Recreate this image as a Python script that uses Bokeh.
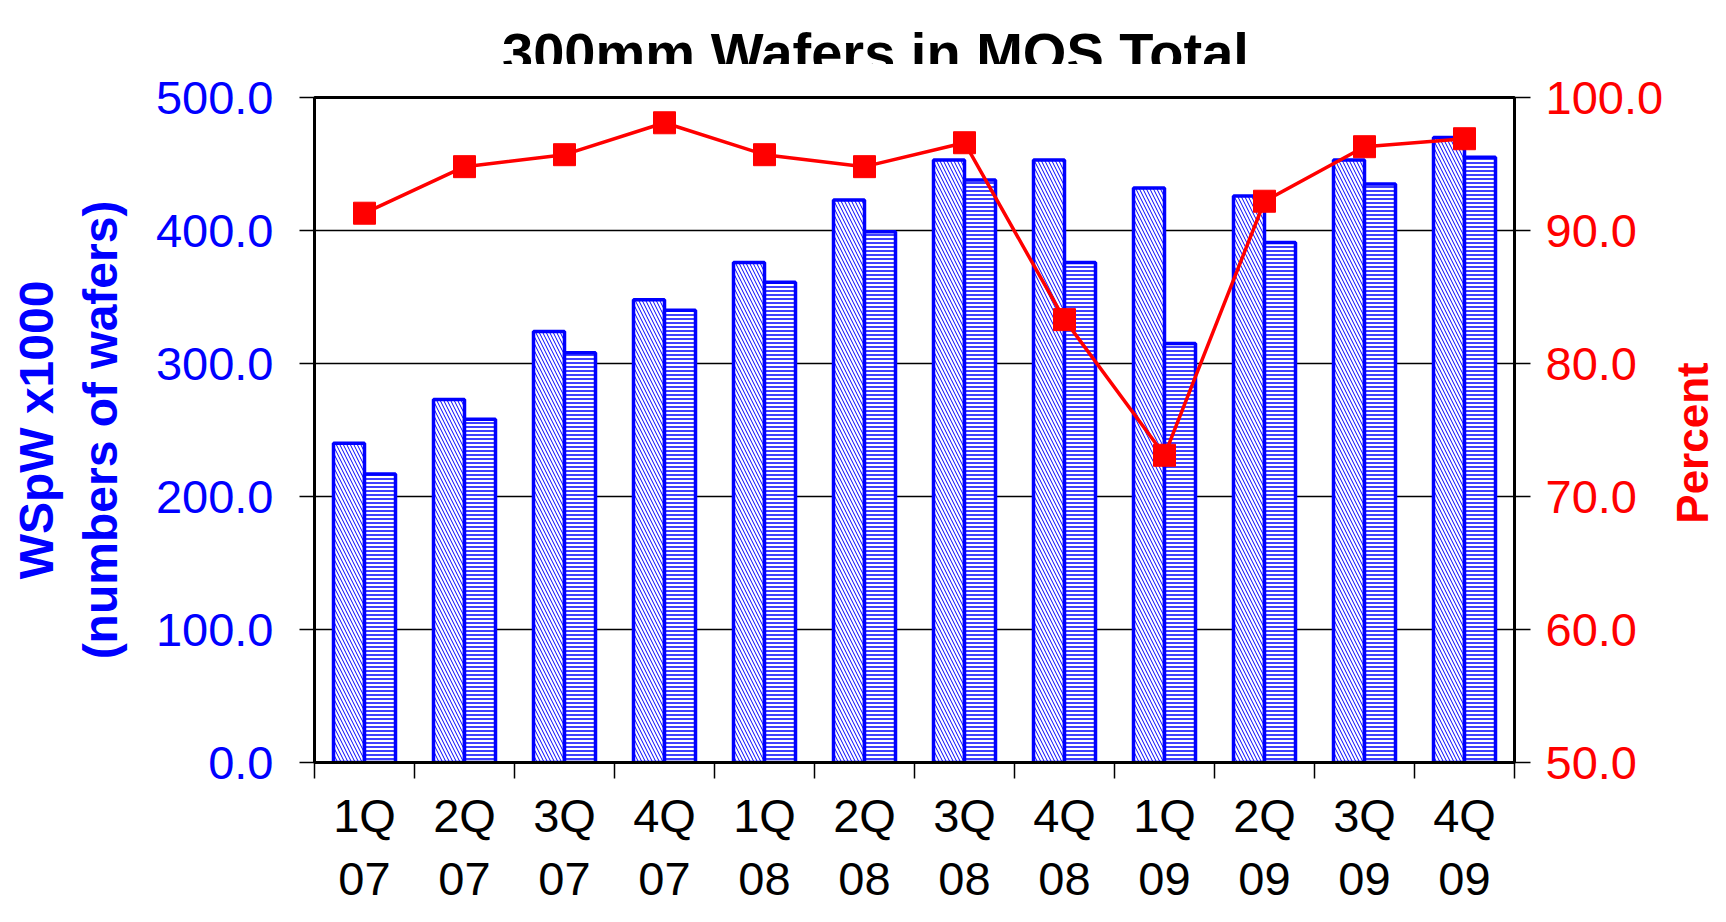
import math
from bokeh.plotting import figure
from bokeh.layouts import row, column
from bokeh.models import (Range1d, LinearAxis, FixedTicker, PrintfTickFormatter,
                          ColumnDataSource)
from bokeh.transform import dodge
from bokeh.core.properties import value
from bokeh.embed import file_html
from bokeh.resources import INLINE

# ---- data ----
title_text = "300mm Wafers in MOS Total"
quarters = ["1Q", "2Q", "3Q", "4Q", "1Q", "2Q", "3Q", "4Q", "1Q", "2Q", "3Q", "4Q"]
years = ["07", "07", "07", "07", "08", "08", "08", "08", "09", "09", "09", "09"]
capacity = [240, 273, 324, 348, 376, 423, 453, 453, 432, 426, 453, 470]
actual = [217, 258, 308, 340, 361, 399, 438, 376, 315, 391, 435, 455]
percent = [91.3, 94.8, 95.7, 98.1, 95.7, 94.8, 96.6, 83.3, 73.1, 92.2, 96.3, 96.9]
left_ticks = [0, 100, 200, 300, 400, 500]
right_ticks = [50, 60, 70, 80, 90, 100]
right_title = "Percent"

n = len(quarters)
labels = [f"{q}\n{y}" for q, y in zip(quarters, years)]
centres = [i + 0.5 for i in range(n)]          # category slot centres
boundaries = list(range(n + 1))                # category slot edges

src = ColumnDataSource(dict(x=centres, capacity=capacity, actual=actual, percent=percent))

FONT = "Liberation Sans"
BLUE = "#0000FF"
RED = "#FF0000"

W_TOTAL = 1718
H_TITLE = 64
H = 914 - H_TITLE
W_MAIN, W_SIDE = 1666, 52
ML, MR, MT, MB = 314, 149, 97 - H_TITLE, 152

pct_range = Range1d(right_ticks[0], right_ticks[-1])

# ---- title strip ----
top = figure(width=W_TOTAL, height=H_TITLE, x_range=Range1d(0, W_TOTAL),
             y_range=Range1d(0, H_TITLE), output_backend="svg", toolbar_location=None,
             x_axis_location=None, y_axis_location=None, title=None,
             min_border_left=0, min_border_right=0, min_border_top=0, min_border_bottom=0)
top.outline_line_color = None
top.grid.visible = False
top.background_fill_color = "white"
top.border_fill_color = "white"
top.text(x=[875], y=[12], text=[title_text], text_align="center",
         text_baseline="alphabetic", text_font=value(FONT), text_font_size="56px",
         text_font_style="bold", text_color="black")

# ---- main chart ----
p = figure(width=W_MAIN, height=H, x_range=Range1d(0, n),
           y_range=Range1d(left_ticks[0], left_ticks[-1]), output_backend="svg",
           toolbar_location=None, x_axis_location=None, title=None,
           min_border_left=ML, min_border_right=MR, min_border_top=MT, min_border_bottom=MB)
p.background_fill_color = "white"
p.border_fill_color = "white"
p.outline_line_color = "black"
p.outline_line_width = 3

# grid
p.xgrid.visible = False
p.ygrid.grid_line_color = "black"
p.ygrid.grid_line_width = 1.5
p.ygrid.ticker = FixedTicker(ticks=left_ticks)

# left axis
ya = p.yaxis[0]
ya.ticker = FixedTicker(ticks=left_ticks)
ya.formatter = PrintfTickFormatter(format="%.1f")
ya.major_label_text_font = FONT
ya.major_label_text_font_size = "47px"
ya.major_label_text_color = BLUE
ya.major_label_standoff = 26
ya.major_tick_out = 15
ya.major_tick_in = 0
ya.major_tick_line_width = 1.5
ya.minor_tick_line_color = None
ya.axis_line_width = 3
ya.axis_label = "WSpW x1000\n(numbers of wafers)"
ya.axis_label_text_font = FONT
ya.axis_label_text_font_size = "48px"
ya.axis_label_text_font_style = "bold"
ya.axis_label_text_color = BLUE
ya.axis_label_text_line_height = 1.2
ya.axis_label_standoff = 26

# right axis
p.extra_y_ranges = {"pct": pct_range}
ra = LinearAxis(y_range_name="pct", ticker=FixedTicker(ticks=right_ticks),
                formatter=PrintfTickFormatter(format="%.1f"))
ra.major_label_text_font = FONT
ra.major_label_text_font_size = "47px"
ra.major_label_text_color = RED
ra.major_label_standoff = 15
ra.major_tick_out = 16
ra.major_tick_in = 0
ra.major_tick_line_width = 1.5
ra.minor_tick_line_color = None
ra.axis_line_width = 3
p.add_layout(ra, "right")

# bottom axis: ticks at category boundaries (minor), labels at centres
xa = LinearAxis(ticker=FixedTicker(ticks=centres, minor_ticks=boundaries))
xa.major_label_overrides = {c: lab for c, lab in zip(centres, labels)}
xa.major_label_text_font = FONT
xa.major_label_text_font_size = "47px"
xa.major_label_text_color = "black"
xa.major_label_text_line_height = 1.2
xa.major_label_standoff = 10
xa.major_tick_out = 0
xa.major_tick_in = 0
xa.minor_tick_out = 16
xa.minor_tick_in = 0
xa.minor_tick_line_width = 1.5
xa.minor_tick_line_color = "black"
xa.axis_line_width = 3
p.add_layout(xa, "below")

# bars
p.vbar(x=dodge("x", -0.155), top="capacity", width=0.31, source=src,
       fill_color="white", line_color=BLUE, line_width=3.5,
       hatch_pattern="left_diagonal_line", hatch_color=BLUE, hatch_scale=7, hatch_weight=1)
p.vbar(x=dodge("x", 0.155), top="actual", width=0.31, source=src,
       fill_color="white", line_color=BLUE, line_width=3.5,
       hatch_pattern="horizontal_line", hatch_color=BLUE, hatch_scale=4, hatch_weight=1.5)

# utilisation line
p.line(x="x", y="percent", source=src, y_range_name="pct", line_color=RED, line_width=3.5)
p.scatter(x="x", y="percent", source=src, y_range_name="pct", marker="square", size=22,
          fill_color=RED, line_color=RED)

# ---- narrow strip on the right carrying the right-axis title (reads bottom to top) ----
side = figure(width=W_SIDE, height=H, x_range=Range1d(0, 1), y_range=pct_range,
              output_backend="svg", toolbar_location=None, title=None,
              x_axis_location=None, y_axis_location=None,
              min_border_left=0, min_border_right=0, min_border_top=MT, min_border_bottom=MB)
side.outline_line_color = None
side.grid.visible = False
side.background_fill_color = "white"
side.border_fill_color = "white"
side.text(x=[0.5], y=[(right_ticks[0] + right_ticks[-1]) / 2], text=[right_title],
          angle=math.pi / 2, text_align="center", text_baseline="middle",
          y_offset=13, text_font=value(FONT), text_font_size="44px",
          text_font_style="bold", text_color=RED)

layout = column(top, row(p, side, spacing=0), spacing=0)
open("out.html", "w").write(file_html(layout, INLINE))
